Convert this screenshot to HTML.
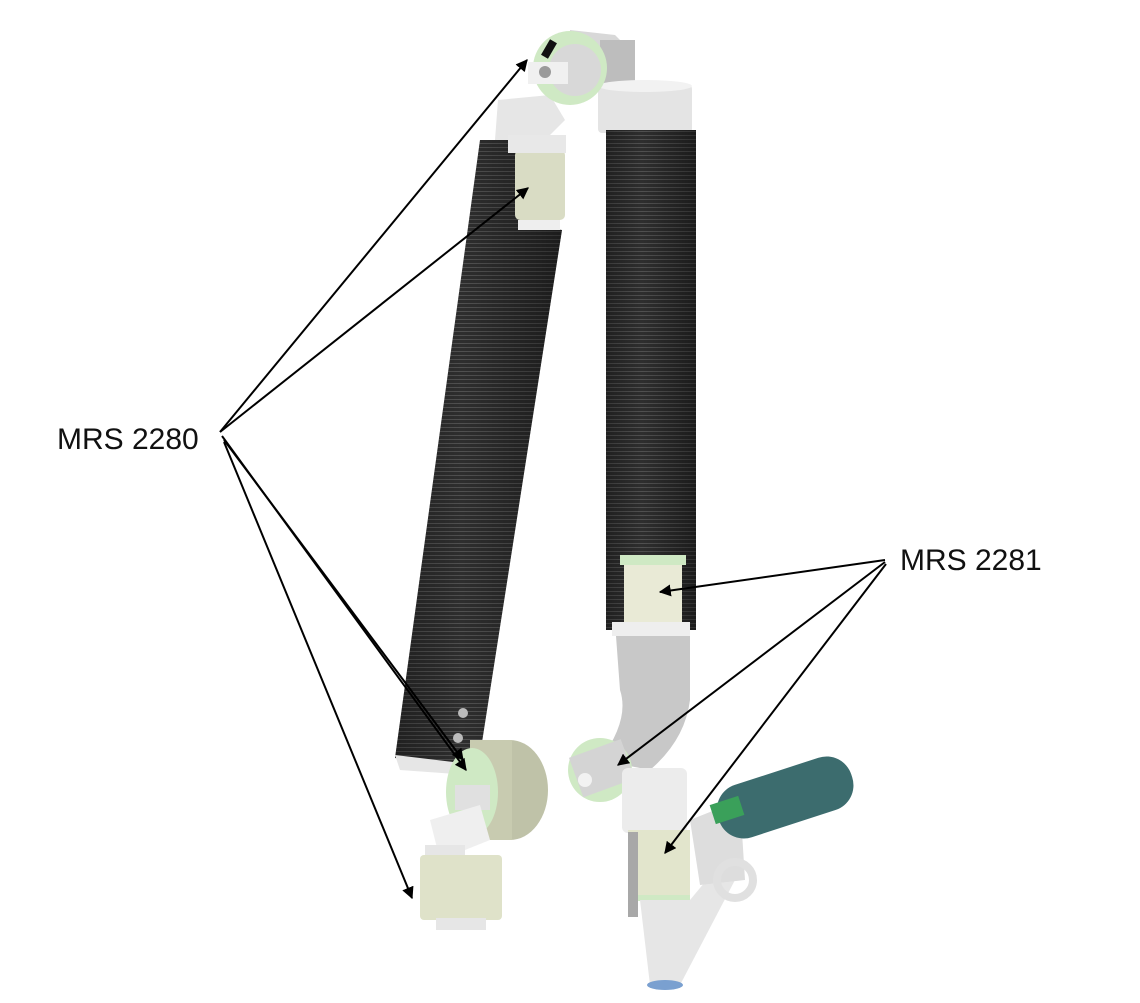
<!DOCTYPE html>
<html><head><meta charset="utf-8"><style>
html,body{margin:0;padding:0;background:#fff;}
svg{display:block}
</style></head><body>
<svg width="1140" height="1003" viewBox="0 0 1140 1003" xmlns="http://www.w3.org/2000/svg">
<defs>
<pattern id="rib" width="6" height="4" patternUnits="userSpaceOnUse">
<rect width="6" height="4" fill="#2e2e2e"/><rect y="3" width="6" height="1" fill="#505050"/>
</pattern>
<linearGradient id="tubeg" x1="0" x2="1" y1="0" y2="0">
<stop offset="0" stop-color="#000" stop-opacity="0.3"/><stop offset="0.4" stop-color="#000" stop-opacity="0"/><stop offset="1" stop-color="#000" stop-opacity="0.4"/>
</linearGradient>
<marker id="ah" viewBox="0 0 10 10" refX="9" refY="5" markerWidth="6" markerHeight="6" orient="auto"><path d="M0,0 L10,5 L0,10 z" fill="#000"/></marker>
</defs>

<!-- top joint -->
<polygon points="570,30 615,35 635,55 635,85 570,85" fill="#d8d8d8"/>
<rect x="600" y="40" width="35" height="45" fill="#bdbdbd"/>
<rect x="598" y="85" width="94" height="48" rx="4" fill="#e4e4e4"/>
<ellipse cx="645" cy="86" rx="47" ry="6" fill="#f2f2f2"/>
<polygon points="498,100 550,95 565,120 545,140 495,140" fill="#e6e6e6"/>
<circle cx="570" cy="68" r="37" fill="#cfe9c4"/>
<circle cx="575" cy="70" r="26" fill="#d8d8d8"/>
<rect x="528" y="62" width="40" height="22" fill="#f0f0f0"/>
<circle cx="545" cy="72" r="6" fill="#9a9a9a"/>
<rect x="545" y="40" width="8" height="18" fill="#111" transform="rotate(30 549 49)"/>

<!-- left tube -->
<polygon points="480,140 515,140 520,225 562,230 478,768 395,758" fill="url(#rib)"/>
<polygon points="480,140 515,140 520,225 562,230 478,768 395,758" fill="url(#tubeg)"/>
<polygon points="395,755 478,765 470,775 400,770" fill="#e6e6e6"/>
<circle cx="463" cy="713" r="5" fill="#bbb"/><circle cx="458" cy="738" r="5" fill="#bbb"/>
<rect x="515" y="150" width="50" height="70" rx="5" fill="#d9dcc4"/>
<rect x="518" y="220" width="42" height="10" fill="#eee"/>
<rect x="508" y="135" width="58" height="18" fill="#e8e8e8"/>

<!-- right tube -->
<rect x="606" y="130" width="90" height="500" fill="url(#rib)"/>
<rect x="606" y="130" width="90" height="500" fill="url(#tubeg)"/>
<rect x="624" y="555" width="58" height="68" fill="#e9ead6"/>
<rect x="620" y="555" width="66" height="10" fill="#cfe9c4"/>
<rect x="612" y="622" width="78" height="14" fill="#eee"/>

<!-- right elbow -->
<path d="M616,636 L690,636 L690,700 Q685,740 650,770 L600,760 Q630,720 620,690 Z" fill="#c8c8c8"/>
<circle cx="600" cy="770" r="32" fill="#cfe9c4"/>
<rect x="575" y="748" width="55" height="42" fill="#d4d4d4" transform="rotate(-20 600 770)"/>
<circle cx="585" cy="780" r="7" fill="#f2f2f2"/>
<rect x="622" y="768" width="65" height="65" rx="6" fill="#ececec"/>
<rect x="628" y="830" width="62" height="70" fill="#e2e5cc"/>
<rect x="628" y="895" width="62" height="6" fill="#cfe9c4"/>
<path d="M640,900 L690,900 L715,870 L735,880 L680,985 L650,985 Z" fill="#e6e6e6"/>
<ellipse cx="665" cy="985" rx="18" ry="5" fill="#7aa0d0"/>
<rect x="628" y="832" width="10" height="85" fill="#a8a8a8"/>
<polygon points="690,820 740,800 745,880 700,885" fill="#ddd"/>
<circle cx="735" cy="880" r="18" fill="none" stroke="#e0e0e0" stroke-width="8"/>
<rect x="715" y="770" width="140" height="55" rx="26" fill="#3c6c6e" transform="rotate(-18 785 797)"/>
<rect x="712" y="800" width="30" height="20" fill="#3aa05a" transform="rotate(-18 727 810)"/>

<!-- lower left joint -->
<ellipse cx="510" cy="790" rx="38" ry="50" fill="#bfc2a8"/>
<rect x="470" y="740" width="42" height="100" fill="#c8cbb0"/>
<ellipse cx="472" cy="792" rx="26" ry="44" fill="#cfe9c4"/>
<rect x="455" y="785" width="35" height="25" fill="#e0e0e0"/>
<polygon points="430,820 480,805 490,840 440,860" fill="#efefef"/>
<rect x="425" y="845" width="40" height="20" fill="#e6e6e6"/>
<rect x="420" y="855" width="82" height="65" rx="4" fill="#dfe2c9"/>
<rect x="436" y="918" width="50" height="12" fill="#e6e6e6"/>

<!-- arrows -->
<g stroke="#000" stroke-width="2" fill="none">
<line x1="220" y1="432" x2="527" y2="60" marker-end="url(#ah)"/>
<line x1="220" y1="432" x2="528" y2="188" marker-end="url(#ah)"/>
<line x1="222" y1="436" x2="466" y2="770" marker-end="url(#ah)"/>
<line x1="224" y1="440" x2="463" y2="760" marker-end="url(#ah)"/>
<line x1="224" y1="442" x2="412" y2="898" marker-end="url(#ah)"/>
<line x1="885" y1="560" x2="660" y2="592" marker-end="url(#ah)"/>
<line x1="885" y1="562" x2="618" y2="765" marker-end="url(#ah)"/>
<line x1="886" y1="564" x2="665" y2="853" marker-end="url(#ah)"/>
</g>

<text x="57" y="449" font-family="Liberation Sans, sans-serif" font-size="30" fill="#111">MRS 2280</text>
<text x="900" y="570" font-family="Liberation Sans, sans-serif" font-size="30" fill="#111">MRS 2281</text>
</svg>
</body></html>
